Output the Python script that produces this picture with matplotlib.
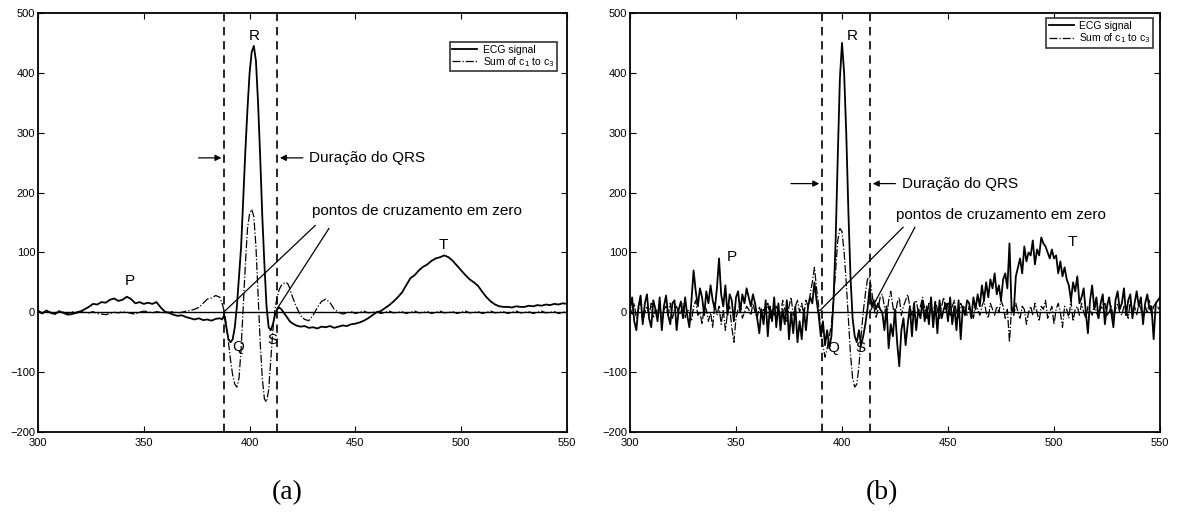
import numpy as np
import matplotlib
matplotlib.use("Agg")
import matplotlib.pyplot as plt

plt.rcParams['font.family'] = ['Liberation Sans', 'DejaVu Sans']

# ---- painel (a): sinal limpo ----
# amostras: passo 2 ate 386, passo 1 no QRS (387-420), passo 2 depois
xa = np.concatenate([np.arange(300, 387, 2), np.arange(387, 421), np.arange(422, 551, 2)])

ecg_a = [
    # 300-386 (passo 2)
    2, -2, 3, -1, -3, 2, -1, -4, -3, -1,
    1, 5, 9, 14, 13, 17, 16, 21, 23, 19,
    21, 26, 22, 15, 17, 14, 16, 14, 17, 8,
    1, -1, -4, -6, -5, -8, -10, -12, -10, -13,
    -12, -14, -11, -10,
    # 387-420 (passo 1)
    -12, -5, -25, -45, -50, -45, -25, 10, 60, 110,
    190, 270, 340, 400, 435, 445, 420, 350, 260, 160,
    80, 10, -25, -30, -20, -5, 5, 8, 5, 0,
    -5, -10, -15, -18,
    # 422-550 (passo 2)
    -22, -24, -23, -26, -25, -27, -24, -25, -23, -26,
    -24, -22, -23, -20, -19, -17, -14, -10, -5, 0,
    2, 7, 12, 18, 25, 33, 45, 57, 62, 70,
    76, 80, 86, 90, 92, 95, 92, 86, 78, 70,
    62, 55, 50, 44, 34, 25, 18, 13, 10, 9,
    9, 8, 10, 9, 9, 11, 10, 12, 11, 13,
    12, 14, 13, 15, 14,
]

soma_a = [
    # 300-386
    3, -1, 2, 0, -2, 1, 0, -2, 1, 0,
    2, 0, -1, 1, -2, -3, -4, -2, 0, -1,
    1, 0, -2, -3, 0, 2, 1, -1, 1, 0,
    -1, 0, 1, -1, 0, 2, 3, 5, 8, 15,
    22, 24, 28, 25,
    # 387-420
    15, 2, -20, -50, -80, -105, -120, -125, -110, -60,
    10, 80, 140, 165, 172, 160, 110, 30, -50, -110,
    -145, -150, -130, -80, -30, 5, 25, 38, 45, 48,
    50, 48, 40, 28,
    # 422-550
    10, -5, -12, -14, -5, 8, 18, 22, 16, 5,
    0, -3, -1, 1, -2, 0, 2, -1, 0, 1,
    -2, 0, 2, -1, 0, 1, -2, 0, 2, -1,
    0, 1, -2, 0, 2, -1, 0, 1, -2, 0,
    2, -1, 0, 1, -2, 0, 2, -1, 0, 1,
    -2, 0, 2, -1, 0, 1, -2, 0, 2, -1,
    0, 1, -2, 0, 1,
]

# ---- painel (b): sinal com ruido (passo 1) ----
xb = np.arange(300, 551)

ecg_b = [
    5, 25, -15, -30, 10, 28, -20, 15, 30, -10,
    -25, 20, 5, -15, 25, -30, 10, 28, -5, -20,
    15, 20, -30, 5, 18, -10, 25, -5, -25, 20,
    70, 35, 10, 40, 25, -5, 35, 15, 45, 20,
    5, 40, 90, 30, 10, 45, -5, 30, 20, -15,
    25, 35, 0, 30, 15, 40, 25, 10, 30, 15,
    -10, -35, 5, -20, 20, -40, 10, -15, 25, -25,
    15, -30, 5, -20, 20, -45, 0, -35, 10, -50,
    -15, -45, 5, -30, 10, 25, 15, 50, 20, -5,
    -40, -15, -55, -30, -60, -40, 20, 120, 260, 390,
    450, 400, 300, 170, 60, -10, -40, -50, -30, -55,
    -40, -20, 5, 40, 10, 20, 5, 15, 5, 0,
    -30, 10, -60, -20, -40, 5, -50, -90, -30, -10,
    -55, -20, 10, -40, 15, -30, 5, -10, 20, -15,
    10, -20, 25, -25, 15, -35, 20, -10, 5, 15,
    -15, 25, -20, 10, -30, 20, -45, 10, -5, 20,
    15, -10, 25, 5, 30, 10, 45, 20, 50, 25,
    55, 40, 65, 30, 45, 20, 55, 65, 40, 115,
    5, 0, 60, 75, 90, 65, 110, 85, 100, 95,
    120, 80, 105, 95, 125, 115, 110, 100, 90, 105,
    90, 95, 65, 85, 60, 75, 55, 45, 20, 50,
    35, 60, 15, 25, 40, 0, -35, 20, 45, 5,
    25, -10, 15, 30, -20, 10, 25, 0, -25, 20,
    35, 5, 15, 40, -5, 20, 30, -10, 15, 35,
    10, 25, -20, 15, 30, 5, 10, -45, 15, 20,
    25,
]

soma_b = [
    10, -5, 15, -10, 5, 20, -15, 0, 10, -5,
    15, -10, 5, 0, 10, -15, 5, 10, -5, 15,
    -10, 5, 10, -5, 0, 15, -10, 5, 0, -15,
    10, 20, -5, 0, -20, 10, 5, -15, 0, -25,
    15, -5, 10, -20, 5, -30, 0, 10, -25, -50,
    -10, 5, 15, -10, 0, 10, 5, -5, 15, 0,
    -10, 10, -5, 5, 0, 15, -10, 5, -5, 10,
    0, -10, 20, 5, -15, 10, 25, -5, 10, 20,
    0, 15, -5, 20, 10, 30, 50, 75, 40, 10,
    -30, -55, -75, -60, -40, -20, 20, 70, 120, 140,
    135, 100, 50, -10, -70, -110, -125, -120, -90, -40,
    0, 30, 55, 60, 35, 10, -10, 5, 25, 30,
    10, -15, 20, 35, 10, -10, 15, 25, -5, 10,
    20, 30, 10, -5, 15, 20, 0, 10, 25, 5,
    -10, 15, 10, -5, 20, 5, -10, 10, 25, 0,
    15, -5, 10, 20, 0, -10, 15, 5, 10, -5,
    10, 0, -10, 15, 5, -5, 10, 20, 0, -10,
    15, 5, -5, 10, 0, 20, 10, -10, 5, -50,
    10, -5, 15, 0, -10, 10, 5, -20, 0, 10,
    -5, 15, 0, -15, 10, 5, 20, -10, 0, 10,
    -20, 5, 15, 0, -25, 10, 5, -10, 20, -15,
    5, 10, -5, 15, 0, -10, 10, 5, -5, 15,
    0, -10, 10, 5, 15, -5, 0, 10, -10, 5,
    15, 0, -5, 10, 5, -10, 20, 0, 10, -5,
    15, 5, -10, 10, 0, 20, -5, 10, 15, 5,
    10,
]

# limites do QRS (linhas tracejadas) e rotulos das ondas
qrs_a = [388, 413]
qrs_b = [390.6, 413.2]
ondas_a = {'P': (343.5, 52), 'Q': (394.5, -58), 'R': (402, 462), 'S': (411, -47), 'T': (491.4, 112)}
ondas_b = {'P': (348, 93), 'Q': (395.8, -60), 'R': (404.7, 462), 'S': (408.5, -60), 'T': (508.5, 117)}


def desenha(ax, x, ecg, soma, qrs, ondas, y_dur, y_pontos, cruz, leg_anchor):
    ax.plot(x, ecg, color='black', lw=1.3, label='ECG signal')
    ax.plot(x, soma, color='black', lw=0.9, ls='-.', label='Sum of c$_1$ to c$_3$')
    ax.axhline(0, color='black', lw=1.0)
    for q in qrs:
        ax.axvline(q, color='black', lw=1.2, ls=(0, (5, 3.5)))

    for nome, (px, py) in ondas.items():
        ax.text(px, py, nome, fontsize=11, ha='center', va='center')

    # setas da duracao do QRS
    ax.annotate('', xy=(qrs[0], y_dur), xytext=(374.6, y_dur),
                arrowprops=dict(arrowstyle='-|>', color='black', lw=0.9, mutation_scale=9))
    ax.annotate('', xy=(qrs[1], y_dur), xytext=(426.5, y_dur),
                arrowprops=dict(arrowstyle='-|>', color='black', lw=0.9, mutation_scale=9))
    ax.text(428.3, y_dur, 'Duração do QRS', fontsize=11, va='center', ha='left')

    ax.text(y_pontos[0], y_pontos[1], 'pontos de cruzamento em zero', fontsize=11,
            va='center', ha='left')
    for (x0, y0), (x1, y1) in cruz:
        ax.plot([x0, x1], [y0, y1], color='black', lw=0.9)

    ax.set_xlim(300, 550)
    ax.set_ylim(-200, 500)
    ax.set_xticks([300, 350, 400, 450, 500, 550])
    ax.set_yticks([-200, -100, 0, 100, 200, 300, 400, 500])
    ax.set_yticklabels(['\u2212200', '\u2212100', '0', '100', '200', '300', '400', '500'])
    ax.tick_params(direction='in', top=True, right=True, labelsize=8, length=4, width=0.8)
    ax.tick_params(axis='x', pad=4)
    ax.tick_params(axis='y', pad=2)
    for s in ax.spines.values():
        s.set_linewidth(1.3)

    leg = ax.legend(loc='upper right', bbox_to_anchor=leg_anchor, fontsize=7.5, frameon=True,
                    fancybox=False, handlelength=2.4, borderpad=0.25, labelspacing=0.05,
                    handletextpad=0.5, borderaxespad=0)
    leg.get_frame().set_edgecolor('black')
    leg.get_frame().set_linewidth(1.2)


fig = plt.figure(figsize=(11.77, 5.18), dpi=100)
ax1 = fig.add_axes([38 / 1177, 1 - 432 / 518, 529 / 1177, 419 / 518])
ax2 = fig.add_axes([630 / 1177, 1 - 432 / 518, 530 / 1177, 419 / 518])

desenha(ax1, xa, ecg_a, soma_a, qrs_a, ondas_a, 258, (429.5, 170),
        [((431, 145), (388, 1)), ((437.5, 140), (413, 6))], (0.981, 0.931))
desenha(ax2, xb, ecg_b, soma_b, qrs_b, ondas_b, 215, (425.5, 163),
        [((428.8, 142), (389.6, 3)), ((434.4, 142), (413, 0))], (0.987, 0.988))

fig.text(287 / 1177, 1 - 493 / 518, '(a)', fontsize=20, family='Liberation Serif',
         ha='center', va='center')
fig.text(882 / 1177, 1 - 493 / 518, '(b)', fontsize=20, family='Liberation Serif',
         ha='center', va='center')

fig.savefig('out.png', dpi=100)
